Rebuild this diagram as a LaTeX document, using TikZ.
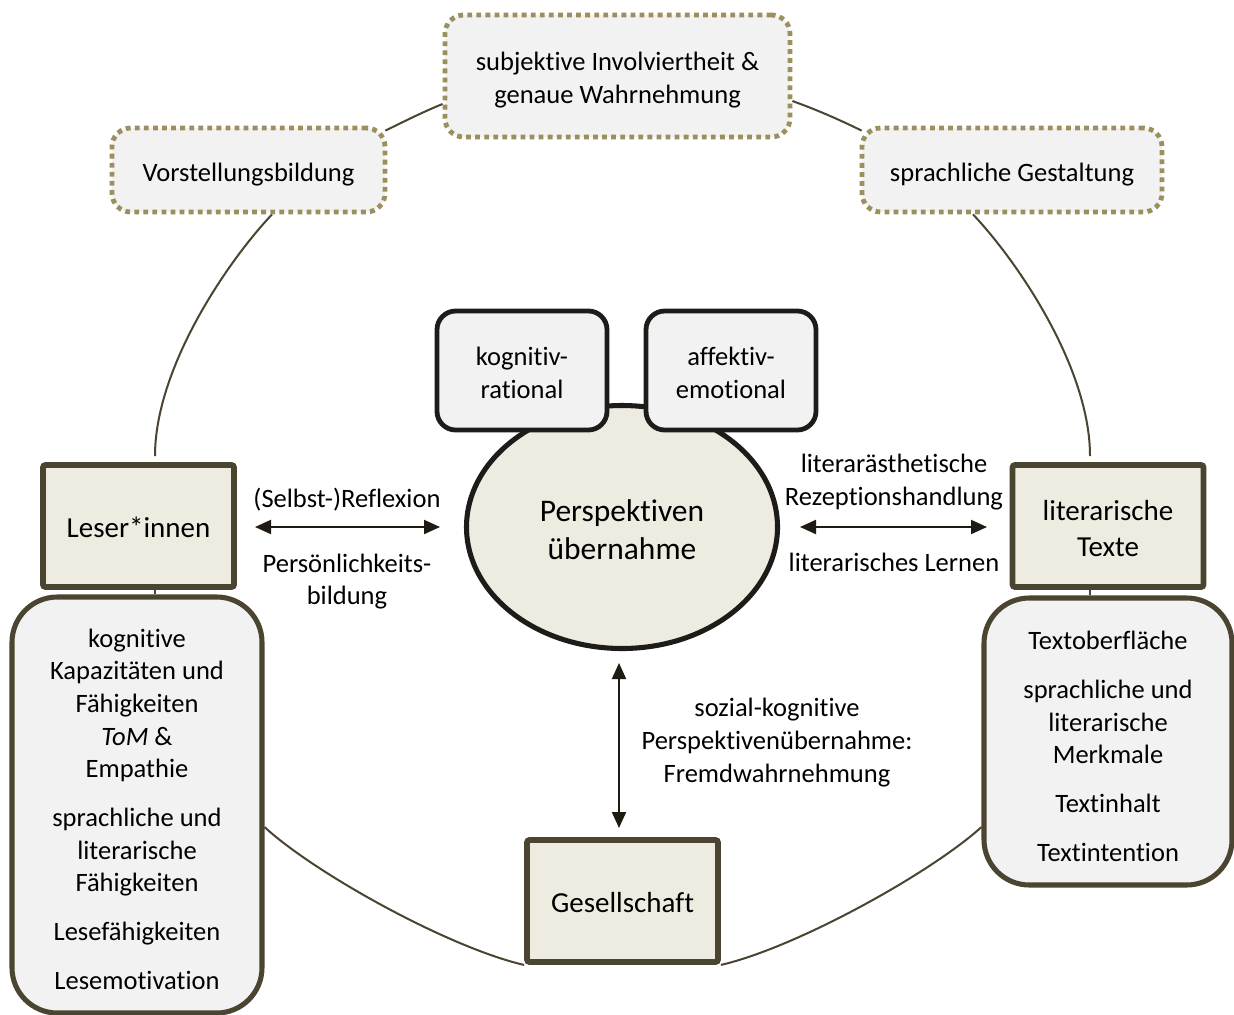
\documentclass[tikz,border=0pt]{standalone}
\usepackage{fontspec}
\setmainfont{Carlito}[Ligatures=NoCommon]
\usetikzlibrary{arrows.meta,calc,shapes.geometric,backgrounds}
\definecolor{dotcol}{HTML}{9B8F5E}
\definecolor{darkcol}{HTML}{4B4430}
\definecolor{boxgray}{HTML}{F2F2F2}
\definecolor{beige}{HTML}{EEEBE0}
\definecolor{nearblack}{HTML}{1E1C18}
\definecolor{arrcol}{HTML}{1F1B12}
\tikzset{
  txt/.style={font=\fontsize{19.9}{24.5}\selectfont, align=center, text=black, inner sep=0pt},
  bigtxt/.style={txt, font=\fontsize{21.75}{27}\selectfont},
  dotbox/.style={draw=dotcol, line width=3.6pt, dash pattern=on 3.6pt off 3.2pt, fill=boxgray, rounded corners=14pt, inner sep=0pt},
  blackbox/.style={draw=nearblack, line width=3.6pt, fill=boxgray, rounded corners=14pt, minimum width=170*0.75pt, minimum height=119*0.75pt, inner sep=0pt},
  mainbox/.style={draw=darkcol, line width=4.4pt, fill=beige, rounded corners=2pt, minimum width=191*0.75pt, minimum height=122*0.75pt, inner sep=0pt},
  listbox/.style={draw=darkcol, line width=3.8pt, fill=boxgray, rounded corners=34pt, inner sep=0pt},
  conn/.style={draw=darkcol, line width=1.5pt},
  dblarrow/.style={{Triangle[length=12pt,width=10.5pt]}-{Triangle[length=12pt,width=10.5pt]}, line width=1.5pt, draw=arrcol},
}
\begin{document}
\begin{tikzpicture}[x=0.75pt,y=-0.75pt]
\useasboundingbox (0,0) rectangle (1234,1014);

% central ellipse
\node[ellipse, draw=nearblack, line width=3.8pt, fill=beige, minimum width=311*0.75pt, minimum height=243*0.75pt, inner sep=0pt] (persp) at (622,527) {};
\node[txt, font=\fontsize{23.6}{28.5}\selectfont] (perspt) at ($(persp.center)+(0,2.5)$) {Perspektiven\\übernahme};

% boxes on the ellipse
\node[blackbox] (kog) at (522,370.5) {};
\node[txt] (kogt) at ($(kog.center)+(0,2.5)$) {kognitiv-\\rational};
\node[blackbox] (aff) at (731,370.5) {};
\node[txt] (afft) at ($(aff.center)+(0,2.5)$) {affektiv-\\emotional};

% dotted boxes
\node[dotbox, minimum width=345*0.75pt, minimum height=122*0.75pt] (subj) at (617.5,76) {};
\node[txt] (subjt) at ($(subj.center)+(0,4)$) {subjektive Involviertheit \&\\genaue Wahrnehmung};
\node[dotbox, minimum width=273*0.75pt, minimum height=84*0.75pt] (vor) at (248.5,170) {};
\node[txt] (vort) at ($(vor.center)+(0,5)$) {Vorstellungsbildung};
\node[dotbox, minimum width=300*0.75pt, minimum height=84*0.75pt] (spr) at (1012,170) {};
\node[txt] (sprt) at ($(spr.center)+(0,5)$) {sprachliche Gestaltung};

% main boxes
\node[mainbox] (les) at (138.5,526) {};
\node[bigtxt] (lest) at ($(les.center)+(0,1.5)$) {Leser*innen};
\node[mainbox] (lit) at (1108,526) {};
\node[bigtxt] (litt) at ($(lit.center)+(0,3)$) {literarische\\Texte};
\node[mainbox] (ges) at (622.5,901) {};
\node[bigtxt] (gest) at ($(ges.center)+(0,2)$) {Gesellschaft};

% list boxes
\node[listbox, minimum width=250*0.75pt, minimum height=416*0.75pt] (lbox) at (137,805) {};
\node[txt] (lboxt) at ($(lbox.center)+(0,4)$) {kognitive\\Kapazitäten und\\Fähigkeiten\\\textit{ToM} \&\\Empathie\\[12pt]sprachliche und\\literarische\\Fähigkeiten\\[12pt]Lesefähigkeiten\\[12pt]Lesemotivation};
\node[listbox, minimum width=248*0.75pt, minimum height=287*0.75pt] (rbox) at (1108,741.5) {};
\node[txt] (rboxt) at ($(rbox.center)+(0,5)$) {Textoberfläche\\[12pt]sprachliche und\\literarische\\Merkmale\\[12pt]Textinhalt\\[12pt]Textintention};

% arrow labels
\node[txt] (lrefl) at (347,500) {(Selbst-)Reflexion};
\node[txt] (lpers) at (347,581.5) {Persönlichkeits-\\bildung};
\node[txt] (lrez) at (894,482) {literarästhetische\\Rezeptionshandlung};
\node[txt] (llern) at (894,562.5) {literarisches Lernen};
\node[txt] (lsoz) at (777,742.5) {sozial-kognitive\\Perspektivenübernahme:\\Fremdwahrnehmung};

% arrow end points
\coordinate (aL1) at (255,527);
\coordinate (aL2) at (440,527);
\coordinate (aR1) at (800,527);
\coordinate (aR2) at (987,527);
\coordinate (aV1) at (619,663);
\coordinate (aV2) at (619,828);

\draw[dblarrow] (aL1) -- (aL2);
\draw[dblarrow] (aR1) -- (aR2);
\draw[dblarrow] (aV1) -- (aV2);

\begin{scope}[on background layer]
\fill[white] (0,0) rectangle (1234,1014);
% cycle connectors
\draw[conn] ($(vor.north east)+(-2,5)$) .. controls (405,121) and (425,111) .. (subj.west |- 0,104);
\draw[conn] (subj.east |- 0,101) .. controls (820,111) and (842,121) .. ($(spr.north west)+(2,5)$);
\draw[conn] ($(vor.south)+(23.5,0)$) .. controls (227,262) and (155,368) .. ($(les.north)+(16.5,-6)$);
\draw[conn] ($(spr.south)+(-39,0)$) .. controls (1018,262) and (1090,368) .. ($(lit.north)+(-18,-6)$);
\draw[conn] ($(les.south)+(16.5,0)$) -- ($(lbox.north)+(18,0)$);
\draw[conn] ($(lit.south)+(-18,0)$) -- ($(rbox.north)+(-18,0)$);
\draw[conn] (lbox.east |- 0,827) .. controls (313,872) and (447,947) .. (ges.south west);
\draw[conn] (ges.south east) .. controls (798,947) and (932,872) .. (rbox.west |- 0,827);
\end{scope}
\end{tikzpicture}
\end{document}
